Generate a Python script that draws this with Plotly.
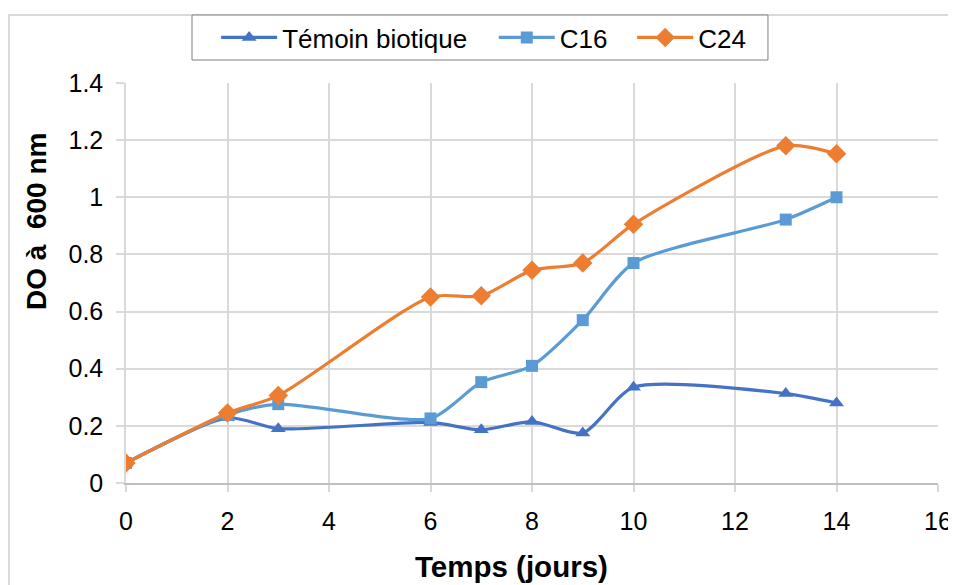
import plotly.graph_objects as go

jours = [0, 2, 3, 6, 7, 8, 9, 10, 13, 14]
temoin = [0.07, 0.228, 0.19, 0.212, 0.186, 0.215, 0.175, 0.335, 0.313, 0.28]
c16 = [0.07, 0.238, 0.276, 0.226, 0.353, 0.41, 0.57, 0.77, 0.922, 1.0]
c24 = [0.07, 0.245, 0.306, 0.651, 0.655, 0.745, 0.77, 0.906, 1.18, 1.152]

font = 'Liberation Sans, Arial, sans-serif'
pad1 = '\u00a0\u00a0\u00a0'
pad2 = '\u00a0\u00a0\u2009'

fig = go.Figure()
fig.add_trace(go.Scatter(x=jours, y=temoin, name='Témoin biotique' + pad1, mode='lines+markers',
                         line=dict(color='#4472C4', width=3.2, shape='spline', smoothing=0.7),
                         marker=dict(symbol='triangle-up', size=13, color='#4472C4')))
fig.add_trace(go.Scatter(x=jours, y=c16, name='C16' + pad2, mode='lines+markers',
                         line=dict(color='#5B9BD5', width=3.2, shape='spline', smoothing=0.7),
                         marker=dict(symbol='square', size=12, color='#5B9BD5')))
fig.add_trace(go.Scatter(x=jours, y=c24, name='C24', mode='lines+markers',
                         line=dict(color='#ED7D31', width=3.2, shape='spline', smoothing=0.7),
                         marker=dict(symbol='diamond', size=15, color='#ED7D31')))

# cadre extérieur du graphique
fig.add_shape(type='rect', xref='paper', yref='paper', x0=-0.144, x1=1.2, y0=-0.4, y1=1.17,
              line=dict(color='#D9D9D9', width=2), layer='below')
# cadre de la légende
fig.add_shape(type='rect', xref='paper', yref='paper', x0=0.0813, x1=0.7906, y0=1.0575, y1=1.17,
              line=dict(color='#7F7F7F', width=1), fillcolor='white', layer='below')

# titres des axes (décalés comme dans Excel)
fig.add_annotation(text='<b>Temps (jours)</b>', xref='paper', yref='paper', x=0.475, y=-0.209,
                   showarrow=False, font=dict(size=29.5), xanchor='center', yanchor='middle')
fig.add_annotation(text='<b>DO à  600 nm</b>', xref='paper', yref='paper', x=-0.1108, y=0.6525,
                   showarrow=False, font=dict(size=28), textangle=-90,
                   xanchor='center', yanchor='middle')

fig.update_layout(
    width=956, height=585,
    margin=dict(l=118, r=26, t=75, b=110, autoexpand=False),
    paper_bgcolor='white', plot_bgcolor='white',
    font=dict(family=font, size=25, color='black'),
    showlegend=True,
    legend=dict(orientation='h', x=0.111, xanchor='left', y=1.1138, yanchor='middle',
                borderwidth=0, bgcolor='rgba(0,0,0,0)',
                font=dict(size=26), itemwidth=56, tracegroupgap=0),
    xaxis=dict(range=[0, 16], dtick=2, showgrid=True, gridcolor='#D9D9D9', gridwidth=1.5,
               showline=True, linecolor='#BFBFBF', linewidth=2, zeroline=False,
               ticks='outside', ticklen=7, tickcolor='#D9D9D9', tickwidth=1.5,
               tickfont=dict(size=25), automargin=False, ticklabelstandoff=8),
    yaxis=dict(range=[0, 1.4], dtick=0.2, showgrid=True, gridcolor='#D9D9D9', gridwidth=1.5,
               showline=True, linecolor='#D9D9D9', linewidth=1.5, zeroline=False,
               ticks='outside', ticklen=8, tickcolor='#D9D9D9', tickwidth=1.5,
               tickfont=dict(size=25), tickformat='~g', automargin=False, ticklabelstandoff=8),
)

fig.write_html('out.html')
